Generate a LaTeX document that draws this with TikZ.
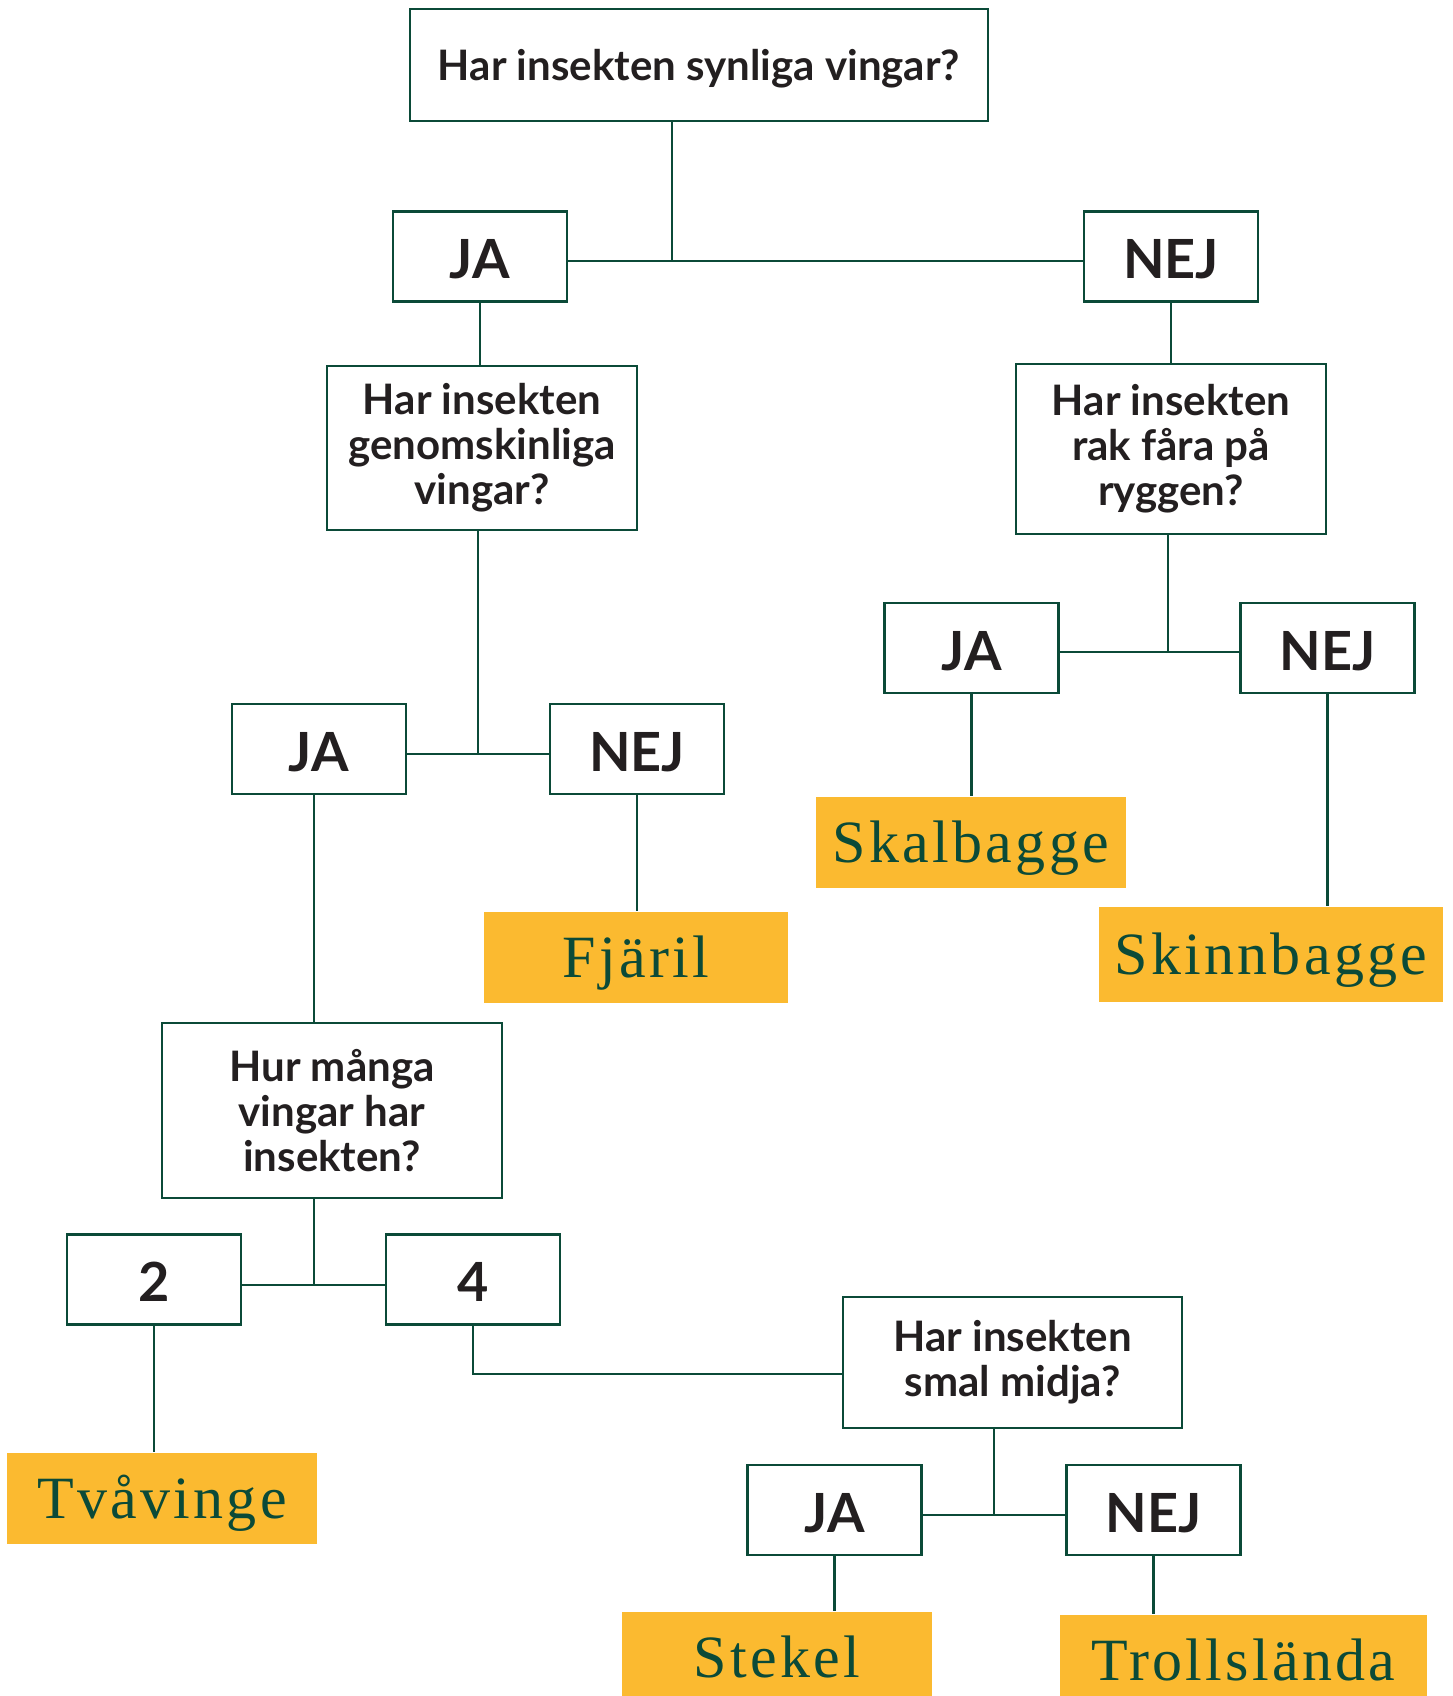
\documentclass[tikz,border=0pt]{standalone}
\usepackage{fontspec}
\usepackage{tikz}
\usetikzlibrary{calc}
\setmainfont{Liberation Serif}
\newfontfamily\lato{Lato}
\newfontfamily\resfont{Liberation Serif}[LetterSpace=5.5]
\definecolor{kgreen}{HTML}{0B4A38}
\definecolor{kyellow}{HTML}{FBBA30}
\definecolor{kink}{HTML}{231F20}

\tikzset{
    fraga/.style={draw=kgreen, line width=2.2pt, fill=white, align=center,
        text=kink, inner sep=0pt, font=\lato\bfseries\fontsize{42}{45}\selectfont},
    svar/.style={draw=kgreen, line width=2.2pt, fill=white, text=kink,
        inner sep=0pt, minimum width=174pt, minimum height=90pt,
        text height=44pt, text depth=0pt,
        font=\lato\bfseries\fontsize{54}{60}\selectfont},
    insekt/.style={fill=kyellow, text=kgreen, inner sep=0pt,
        minimum height=91pt, text height=40pt, text depth=0pt,
        font=\resfont\fontsize{60}{66}\selectfont},
}

\begin{document}
\begin{tikzpicture}[x=1pt,y=-1pt, line width=2.2pt, draw=kgreen]
        \useasboundingbox (0,0) rectangle (1452,1696);
        % questions
        \node[fraga, minimum width=578pt, minimum height=112pt,
            text height=31pt, text depth=0pt] (fraga1) at (699,65)
            {Har insekten synliga vingar?};
        \node[fraga, minimum width=310pt, minimum height=164pt] (fraga2) at (482,448)
            {Har insekten\\genomskinliga\\vingar?};
        \node[fraga, minimum width=310pt, minimum height=170pt] (fraga3) at (1171,449)
            {Har insekten\\rak fåra på\\ryggen?};
        \node[fraga, minimum width=340pt, minimum height=175pt] (fraga4) at (332,1110.5)
            {Hur många\\vingar har\\insekten?};
        \node[fraga, minimum width=339pt, minimum height=131pt] (fraga5) at (1012.5,1362.5)
            {Har insekten\\smal midja?};
        % answers
        \node[svar] (ja1) at (480,256.5) {JA};
        \node[svar] (nej1) at (1171,256.5) {NEJ};
        \node[svar] (ja2) at (319,749) {JA};
        \node[svar] (nej2) at (637,749) {NEJ};
        \node[svar] (ja4) at (971.5,648) {JA};
        \node[svar] (nej4) at (1327.5,648) {NEJ};
        \node[svar] (tva) at (154,1279.5) {2};
        \node[svar] (fyra) at (473,1279.5) {4};
        \node[svar] (ja5) at (834.5,1510) {JA};
        \node[svar] (nej5) at (1153.5,1510) {NEJ};
        % insects
        \node[insekt, minimum width=304pt] (fjaril) at (636,957.5) {Fjäril};
        \node[insekt, minimum width=310pt] (skalbagge) at (971,842.5) {Skalbagge};
        \node[insekt, minimum width=344pt, minimum height=95pt] (skinnbagge) at (1271,954.5) {Skinnbagge};
        \node[insekt, minimum width=310pt] (tvavinge) at (162,1498.5) {Tvåvinge};
        \node[insekt, minimum width=310pt] (stekel) at (777,1657.5) {Stekel};
        \node[insekt, minimum width=367pt] (trollslanda) at (1243.5,1660.5) {Trollslända};
        % junctions
        \coordinate (j1) at (672,261);
        \coordinate (j2) at (478,754);
        \coordinate (j3) at (1168,652);
        \coordinate (j4) at (314,1285);
        \coordinate (j5) at (994,1515);
        \coordinate (k5) at (842,1374);
        % lines
        \draw (fraga1.south -| j1) -- (j1);
        \draw (ja1.east |- j1) -- (nej1.west |- j1);
        \draw (ja1.south) -- (ja1.south |- fraga2.north);
        \draw (nej1.south) -- (nej1.south |- fraga3.north);
        \draw (fraga2.south -| j2) -- (j2);
        \draw (ja2.east |- j2) -- (nej2.west |- j2);
        \draw (nej2.south) -- (nej2.south |- fjaril.north);
        \draw (ja2.south -| j4) -- (fraga4.north -| j4);
        \draw (fraga3.south -| j3) -- (j3);
        \draw (ja4.east |- j3) -- (nej4.west |- j3);
        \draw (ja4.south) -- (ja4.south |- skalbagge.north);
        \draw (nej4.south) -- (nej4.south |- skinnbagge.north);
        \draw (fraga4.south -| j4) -- (j4);
        \draw (tva.east |- j4) -- (fyra.west |- j4);
        \draw (tva.south) -- (tva.south |- tvavinge.north);
        \draw (fyra.south) |- (k5);
        \draw (fraga5.south -| j5) -- (j5);
        \draw (ja5.east |- j5) -- (nej5.west |- j5);
        \draw (ja5.south) -- (ja5.south |- stekel.north);
        \draw (nej5.south) -- (nej5.south |- trollslanda.north);
    \end{tikzpicture}
\end{document}
